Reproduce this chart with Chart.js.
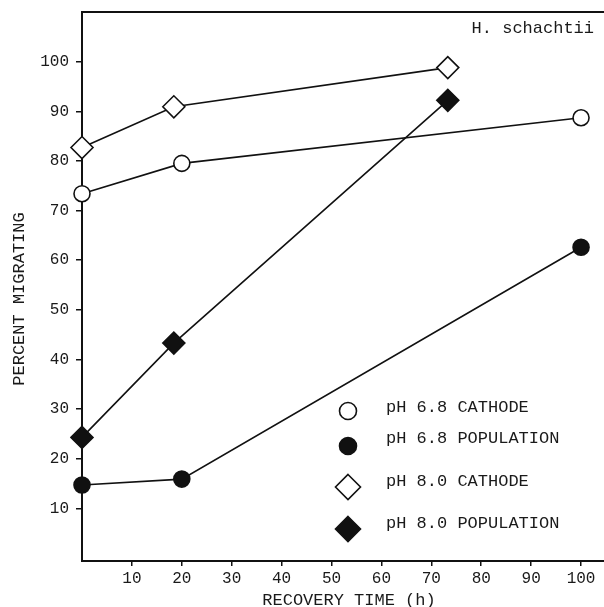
<!DOCTYPE html>
<html>
<head>
<meta charset="utf-8">
<script src="https://cdn.jsdelivr.net/npm/chart.js@4/dist/chart.umd.min.js"></script>
<style>
    html, body { margin: 0; padding: 0; background: #fff; }
    #wrap { width: 604px; height: 607px; }
</style>
</head>
<body>
<div id="wrap"><canvas id="chart" width="604" height="607"></canvas></div>
<script>
// Recovery time (h) and percent migrating
const hours68 = [0, 20, 100];
const cathode68 = [73.4, 79.5, 88.7];
const population68 = [14.7, 15.9, 62.6];

const hours80 = [0, 18.4, 73.3];
const cathode80 = [82.7, 90.9, 98.8];
const population80 = [24.3, 43.3, 92.2];

const xTicks = [10, 20, 30, 40, 50, 60, 70, 80, 90, 100];
const yTicks = [10, 20, 30, 40, 50, 60, 70, 80, 90, 100];

const seriesLabels = ['pH 6.8 CATHODE', 'pH 6.8 POPULATION', 'pH 8.0 CATHODE', 'pH 8.0 POPULATION'];
const speciesLabel = 'H. schachtii';
const xTitle = 'RECOVERY TIME (h)';
const yTitle = 'PERCENT MIGRATING';

const INK = '#111';
const TEXT = '#1a1a1a';
const FONT = '"Liberation Mono", "DejaVu Sans Mono", monospace';

function toPoints(xs, ys) {
    return xs.map((x, i) => ({ x: x, y: ys[i] }));
}

// marker look for each series: [pointStyle, filled, radius]
const markers = [
    ['circle', false, 8],
    ['circle', true, 8],
    ['rectRot', false, 11],
    ['rectRot', true, 11]
];

function dataset(i, xs, ys) {
    const m = markers[i];
    return {
        label: seriesLabels[i],
        data: toPoints(xs, ys),
        borderColor: INK,
        borderWidth: 1.6,
        pointStyle: m[0],
        pointRadius: m[2],
        pointBackgroundColor: m[1] ? INK : '#fff',
        pointBorderColor: INK,
        pointBorderWidth: 1.6,
        tension: 0
    };
}

function drawMarker(ctx, style, filled, r, x, y) {
    ctx.save();
    ctx.beginPath();
    if (style === 'circle') {
        ctx.arc(x, y, r, 0, Math.PI * 2);
    } else {
        ctx.moveTo(x, y - r);
        ctx.lineTo(x + r, y);
        ctx.lineTo(x, y + r);
        ctx.lineTo(x - r, y);
        ctx.closePath();
    }
    ctx.fillStyle = filled ? INK : '#fff';
    ctx.fill();
    ctx.lineWidth = 1.6;
    ctx.strokeStyle = INK;
    ctx.stroke();
    ctx.restore();
}

// frame top line, axis titles, species label and the in-plot key
const decor = {
    id: 'decor',
    afterDraw(chart) {
        const ctx = chart.ctx;
        const area = chart.chartArea;
        ctx.save();
        ctx.strokeStyle = INK;
        ctx.lineWidth = 2;
        ctx.beginPath();
        ctx.moveTo(area.left, area.top);
        ctx.lineTo(area.right, area.top);
        ctx.stroke();

        ctx.fillStyle = TEXT;
        ctx.font = '17px ' + FONT;
        ctx.textBaseline = 'alphabetic';

        ctx.textAlign = 'right';
        ctx.fillText(speciesLabel, 594, 33);

        ctx.textAlign = 'center';
        ctx.fillText(xTitle, 349, 605);

        ctx.save();
        ctx.translate(24, 299);
        ctx.rotate(-Math.PI / 2);
        ctx.fillText(yTitle, 0, 0);
        ctx.restore();

        const keyRows = [[411, 412], [446, 443], [487, 486], [529, 528]];
        ctx.textAlign = 'left';
        keyRows.forEach((row, i) => {
            const m = markers[i];
            drawMarker(ctx, m[0], m[1], m[0] === 'circle' ? 8.5 : 12.5, 348, row[0]);
            ctx.fillStyle = TEXT;
            ctx.fillText(seriesLabels[i], 386, row[1]);
        });
        ctx.restore();
    }
};

new Chart(document.getElementById('chart').getContext('2d'), {
    type: 'line',
    data: {
        datasets: [
            dataset(0, hours68, cathode68),
            dataset(1, hours68, population68),
            dataset(2, hours80, cathode80),
            dataset(3, hours80, population80)
        ]
    },
    options: {
        responsive: false,
        devicePixelRatio: 1,
        animation: false,
        clip: false,
        layout: { autoPadding: false, padding: { top: 12, left: 0, right: 0, bottom: 0 } },
        scales: {
            x: {
                type: 'linear',
                min: 0,
                max: 104.6,
                afterBuildTicks: (scale) => { scale.ticks = xTicks.map(v => ({ value: v })); },
                afterFit: (scale) => {
                    scale.height = 46;
                    scale.paddingLeft = 0;
                    scale.paddingRight = 0;
                },
                border: { display: true, color: INK, width: 2 },
                grid: { drawOnChartArea: false, drawTicks: true, tickLength: 5, color: INK, lineWidth: 1.5 },
                ticks: { color: TEXT, padding: 3, maxRotation: 0, autoSkip: false, font: { family: FONT, size: 16 } }
            },
            y: {
                type: 'linear',
                min: -0.6,
                max: 110,
                afterBuildTicks: (scale) => { scale.ticks = yTicks.map(v => ({ value: v })); },
                afterFit: (scale) => {
                    scale.width = 82;
                    scale.paddingTop = 0;
                    scale.paddingBottom = 0;
                },
                border: { display: true, color: INK, width: 2 },
                grid: { drawOnChartArea: false, drawTicks: true, tickLength: 6, color: INK, lineWidth: 1.5 },
                ticks: { color: TEXT, padding: 7, autoSkip: false, font: { family: FONT, size: 16 } }
            }
        },
        plugins: {
            legend: { display: false },
            tooltip: { enabled: false }
        }
    },
    plugins: [decor]
});
</script>
</body>
</html>
